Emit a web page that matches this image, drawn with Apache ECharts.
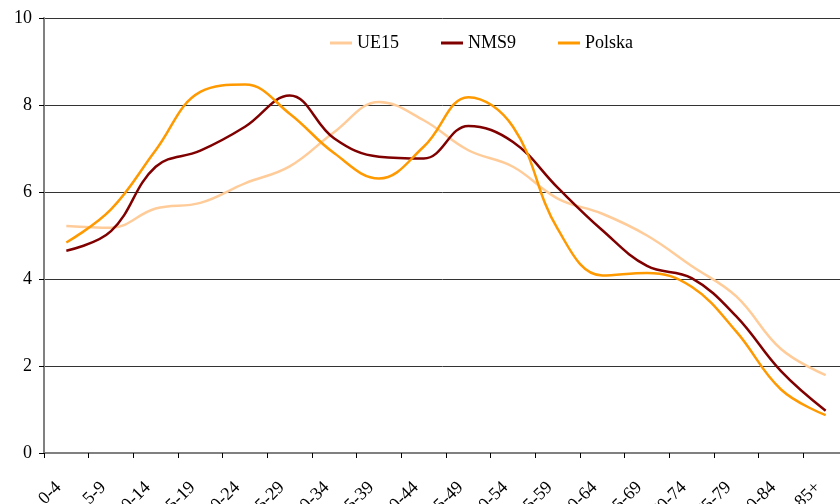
<!DOCTYPE html>
<html>
<head>
<meta charset="utf-8">
<script src="https://cdn.jsdelivr.net/npm/echarts@6/dist/echarts.min.js"></script>
<style>
  html, body { margin: 0; padding: 0; background: #fff; }
  #chart { width: 840px; height: 504px; }
</style>
</head>
<body>
<div id="chart"></div>
<script>
  // age groups
  var categories = ['0-4', '5-9', '10-14', '15-19', '20-24', '25-29', '30-34', '35-39', '40-44',
    '45-49', '50-54', '55-59', '60-64', '65-69', '70-74', '75-79', '80-84', '85+']
  var ue15 = [5.22, 5.18, 5.62, 5.75, 6.2, 6.59, 7.38, 8.07, 7.65, 6.96, 6.58, 5.85, 5.5, 5.0, 4.3, 3.6, 2.39, 1.79]
  var nms9 = [4.65, 5.1, 6.58, 6.95, 7.5, 8.22, 7.23, 6.81, 6.77, 7.52, 7.15, 6.1, 5.12, 4.3, 4.02, 3.14, 1.88, 0.97]
  var polska = [4.84, 5.6, 6.96, 8.3, 8.47, 7.8, 6.89, 6.31, 7.04, 8.18, 7.5, 5.15, 4.08, 4.14, 3.82, 2.79, 1.46, 0.87]

  var font = "'Liberation Serif', 'Times New Roman', serif"
  var myChart = echarts.init(document.getElementById('chart'))

  function line (name, data, color) {
    return {
      name: name,
      type: 'line',
      data: data,
      smooth: 0.4,
      symbol: 'none',
      lineStyle: { color: color, width: 2.5 },
      itemStyle: { color: color }
    }
  }

  myChart.setOption({
    backgroundColor: '#fff',
    animation: false,
    textStyle: { fontFamily: font },
    legend: {
      left: 325,
      top: 29,
      itemGap: 42,
      itemWidth: 22,
      itemHeight: 3,
      icon: 'rect',
      textStyle: { fontFamily: font, fontSize: 18, color: '#000' },
      data: ['UE15', 'NMS9', 'Polska']
    },
    grid: {
      left: 44,
      right: -8,
      top: 18,
      bottom: 51,
      containLabel: false,
      outerBoundsMode: 'none'
    },
    xAxis: {
      type: 'category',
      data: categories,
      boundaryGap: true,
      axisLine: { lineStyle: { color: '#808080', width: 2 } },
      axisTick: { show: true, length: 5, lineStyle: { color: '#000' } },
      axisLabel: {
        rotate: 45,
        margin: 24,
        padding: [0, 11, 0, 0],
        interval: 0,
        fontFamily: font,
        fontSize: 18,
        color: '#000'
      },
      splitLine: { show: false }
    },
    yAxis: {
      type: 'value',
      min: 0,
      max: 10,
      interval: 2,
      axisLine: { show: true, lineStyle: { color: '#808080', width: 2 } },
      axisTick: { show: true, length: 5, lineStyle: { color: '#000' } },
      axisLabel: { fontFamily: font, fontSize: 18, color: '#000', margin: 12 },
      splitLine: { show: true, lineStyle: { color: '#333', width: 1 } }
    },
    series: [
      line('UE15', ue15, '#FFCC99'),
      line('NMS9', nms9, '#800000'),
      line('Polska', polska, '#FF9900')
    ]
  })
</script>
</body>
</html>
